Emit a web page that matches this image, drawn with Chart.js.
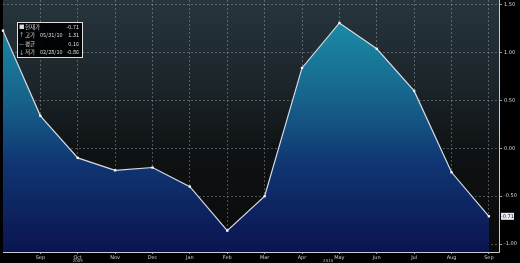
<!DOCTYPE html>
<html>
<head>
<meta charset="utf-8">
<script src="https://cdn.jsdelivr.net/npm/chart.js@4"></script>
<style>
  html, body { margin: 0; padding: 0; background: #000; }
  #wrap { width: 520px; height: 263px; }
</style>
</head>
<body>
<div id="wrap"><canvas id="c"></canvas></div>
<script>
// month labels for each point (first point is previous Aug, label hidden)
const months = ['Aug', 'Sep', 'Oct', 'Nov', 'Dec', 'Jan', 'Feb', 'Mar', 'Apr', 'May', 'Jun', 'Jul', 'Aug', 'Sep'];
const values = [1.23, 0.34, -0.10, -0.23, -0.20, -0.40, -0.86, -0.50, 0.84, 1.31, 1.04, 0.60, -0.25, -0.71];
const yTicks = [-1.0, -0.5, 0, 0.5, 1.0, 1.5];
const yearLabels = [{ at: 2, text: '2009' }, { at: 8.7, text: '2010' }];
const legendRows = [
  ['■', '현재가', '', '-0.71'],
  ['↑', '고가', '05/31/10', '1.31'],
  ['—', '평균', '', '0.16'],
  ['↓', '저가', '02/28/10', '-0.86']
];
const lastValue = '-0.71';

const points = values.map((v, i) => ({ x: i, y: v }));

const chartBg = {
  id: 'chartBg',
  beforeDraw(chart) {
    const { ctx, chartArea: a } = chart;
    ctx.save();
    ctx.fillStyle = '#000';
    ctx.fillRect(0, 0, chart.width, chart.height);
    const g = ctx.createLinearGradient(0, a.top, 0, a.bottom);
    g.addColorStop(0, '#27353d');
    g.addColorStop(0.35, '#1b2429');
    g.addColorStop(0.6, '#0f1214');
    g.addColorStop(1, '#090909');
    ctx.fillStyle = g;
    ctx.fillRect(a.left, a.top, a.right - a.left, a.bottom - a.top);
    ctx.restore();
  },
  afterDraw(chart) {
    const { ctx, chartArea: a, scales } = chart;
    ctx.save();
    // axis frame lines
    ctx.strokeStyle = '#c8ccd4';
    ctx.lineWidth = 1;
    ctx.beginPath();
    ctx.moveTo(a.left, a.bottom + 0.5);
    ctx.lineTo(a.right + 0.5, a.bottom + 0.5);
    ctx.lineTo(a.right + 0.5, a.top);
    ctx.stroke();

    // year labels under x axis
    ctx.fillStyle = '#bbbbbb';
    ctx.font = '4px "DejaVu Sans"';
    ctx.textAlign = 'center';
    yearLabels.forEach(l => {
      ctx.fillText(l.text, scales.x.getPixelForValue(l.at), 262);
    });

    // legend box
    const bx = 17, by = 22, bw = 65, bh = 35;
    ctx.fillStyle = 'rgba(0,0,0,0.92)';
    ctx.fillRect(bx, by, bw, bh);
    ctx.strokeStyle = '#e0e0e0';
    ctx.strokeRect(bx + 0.5, by + 0.5, bw, bh);
    ctx.fillStyle = '#dcdcdc';
    ctx.font = '5.5px "Noto Sans CJK KR"';
    ctx.textBaseline = 'middle';
    legendRows.forEach((r, i) => {
      const y = by + 5 + i * 8.3;
      ctx.textAlign = 'left';
      ctx.fillText(r[0], bx + 2, y);
      ctx.fillText(r[1], bx + 8, y);
      ctx.fillText(r[2], bx + 23, y);
      ctx.textAlign = 'right';
      ctx.fillText(r[3], bx + bw - 3, y);
    });

    // last value tag on right axis
    const ty = scales.y.getPixelForValue(values[values.length - 1]);
    ctx.fillStyle = '#e8eaf0';
    ctx.fillRect(a.right + 2, ty - 3.5, 13, 7);
    ctx.fillStyle = '#0a1440';
    ctx.font = '5px "DejaVu Sans"';
    ctx.textAlign = 'center';
    ctx.fillText(lastValue, a.right + 8.5, ty);
    ctx.restore();
  }
};

const ctx = document.getElementById('c').getContext('2d');
new Chart(ctx, {
  type: 'line',
  data: {
    datasets: [{
      data: points,
      borderColor: '#d6dce4',
      borderWidth: 1.2,
      pointStyle: 'rect',
      pointRadius: 1.6,
      pointBackgroundColor: '#ffffff',
      pointBorderWidth: 0,
      tension: 0,
      clip: 4,
      fill: 'start',
      backgroundColor: (c) => {
        const a = c.chart.chartArea;
        if (!a) return '#155a85';
        const g = c.chart.ctx.createLinearGradient(0, a.top, 0, a.bottom);
        g.addColorStop(0, '#1c97ae');
        g.addColorStop(0.4, '#16628a');
        g.addColorStop(0.65, '#103572');
        g.addColorStop(1, '#0a1450');
        return g;
      }
    }]
  },
  options: {
    responsive: true,
    maintainAspectRatio: false,
    animation: false,
    layout: { autoPadding: false, padding: { left: 3, top: 0, right: 0, bottom: 0 } },
    plugins: {
      legend: { display: false },
      tooltip: { enabled: false }
    },
    scales: {
      x: {
        type: 'linear',
        min: 0,
        max: 13.27,
        afterBuildTicks: (s) => { s.ticks = months.map((m, i) => ({ value: i })).slice(1); },
        afterFit: (s) => { s.height = 11; s.paddingLeft = 0; s.paddingRight = 0; },
        ticks: {
          autoSkip: false,
          maxRotation: 0,
          color: '#d0d0d0',
          font: { size: 5, family: 'DejaVu Sans' },
          padding: 1,
          callback: (v) => months[v]
        },
        grid: {
          color: 'rgba(190,200,210,0.45)',
          lineWidth: 0.8,
          tickLength: 2,
          tickColor: '#c8ccd4',
          drawOnChartArea: true
        },
        border: { display: false, dash: [2, 2] }
      },
      y: {
        position: 'right',
        min: -1.083,
        max: 1.55,
        afterBuildTicks: (s) => { s.ticks = yTicks.map(v => ({ value: v })); },
        afterFit: (s) => { s.width = 21; s.paddingTop = 0; s.paddingBottom = 0; },
        ticks: {
          color: '#d8d8d8',
          font: { size: 5, family: 'DejaVu Sans' },
          padding: 2,
          callback: (v) => v.toFixed(2)
        },
        grid: {
          color: 'rgba(190,200,210,0.45)',
          lineWidth: 0.8,
          tickLength: 3,
          tickColor: '#c8ccd4'
        },
        border: { display: false, dash: [2, 2] }
      }
    }
  },
  plugins: [chartBg]
});
</script>
</body>
</html>
